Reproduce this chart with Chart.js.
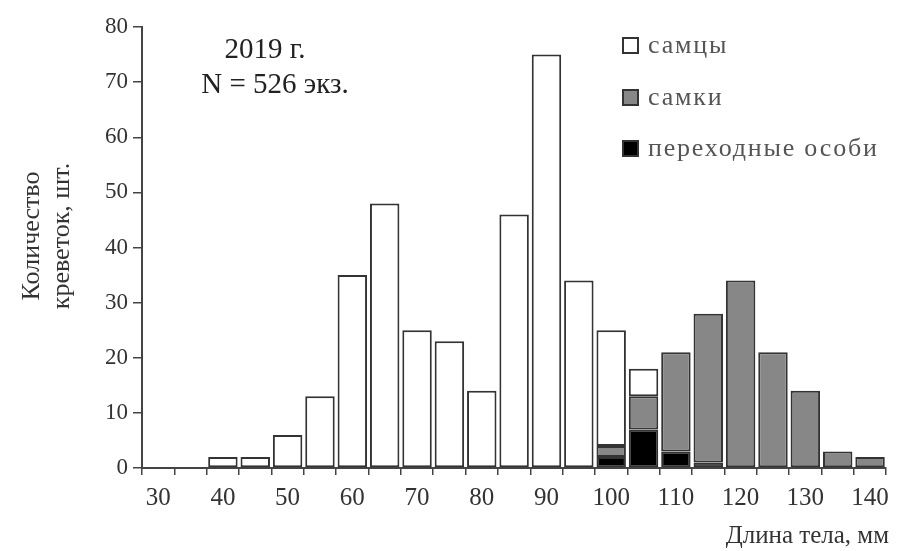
<!DOCTYPE html>
<html>
<head>
<meta charset="utf-8">
<script src="https://cdn.jsdelivr.net/npm/chart.js@4.4.1/dist/chart.umd.min.js"></script>
<style>
  html, body { margin: 0; padding: 0; background: #fff; }
  #wrap { width: 897px; height: 551px; }
</style>
</head>
<body>
<div id="wrap"><canvas id="histChart" width="897" height="551"></canvas></div>
<script>
// body length classes, mm (5 mm step)
const lengthBins = [30, 35, 40, 45, 50, 55, 60, 65, 70, 75, 80, 85, 90, 95, 100, 105, 110, 115, 120, 125, 130, 135, 140];
const tickLabels = ['30', '40', '50', '60', '70', '80', '90', '100', '110', '120', '130', '140'];

// counts per class (stacked: transitional at bottom, then females, males on top)
const males        = [0, 0, 2, 2, 6, 13, 35, 48, 25, 23, 14, 46, 75, 34, 21, 5, 0, 0, 0, 0, 0, 0, 0];
const females      = [0, 0, 0, 0, 0, 0, 0, 0, 0, 0, 0, 0, 0, 0, 2, 6, 18, 27, 34, 21, 14, 3, 2];
const transitional = [0, 0, 0, 0, 0, 0, 0, 0, 0, 0, 0, 0, 0, 0, 2, 7, 3, 1, 0, 0, 0, 0, 0];

const seriesNames = ['самцы', 'самки', 'переходные особи'];
const colors = ['#ffffff', '#878787', '#000000'];
const edge = '#333333';
const serif = "'Liberation Serif', 'DejaVu Serif', serif";

// extra text: year note, axis titles, legend box
const overlayText = {
  id: 'overlayText',
  afterDraw(chart) {
    const ctx = chart.ctx;
    ctx.save();
    ctx.fillStyle = '#222';
    ctx.textAlign = 'center';
    ctx.textBaseline = 'middle';
    ctx.font = '29px ' + serif;
    ctx.fillText('2019 г.', 265, 50);
    ctx.fillText('N = 526 экз.', 275, 85);

    // y axis title, two rotated lines
    ctx.save();
    ctx.translate(32, 236);
    ctx.rotate(-Math.PI / 2);
    ctx.fillStyle = '#333';
    ctx.font = '26px ' + serif;
    ctx.fillText('Количество', 0, 0);
    ctx.fillText('креветок, шт.', 0, 30);
    ctx.restore();

    // x axis title
    ctx.textAlign = 'right';
    ctx.fillStyle = '#333';
    ctx.font = '25px ' + serif;
    ctx.fillText('Длина тела, мм', 889, 536);

    // legend
    const rows = [45, 97, 148];
    ctx.textAlign = 'left';
    ctx.font = '26px ' + serif;
    ctx.letterSpacing = '1.8px';
    rows.forEach((y, i) => {
      ctx.fillStyle = colors[i];
      ctx.fillRect(623, y - 7, 15, 15);
      ctx.strokeStyle = edge;
      ctx.lineWidth = 2;
      ctx.strokeRect(623, y - 7, 15, 15);
      ctx.fillStyle = '#555';
      ctx.fillText(seriesNames[i], 648, y + 1);
    });
    ctx.restore();
  }
};

const ctxEl = document.getElementById('histChart');
const histChart = new Chart(ctxEl, {
  type: 'bar',
  data: {
    labels: lengthBins,
    datasets: [
      { label: seriesNames[2], data: transitional.map(v => v || null), backgroundColor: colors[2] },
      { label: seriesNames[1], data: females.map(v => v || null), backgroundColor: colors[1] },
      { label: seriesNames[0], data: males.map(v => v || null), backgroundColor: colors[0] }
    ].map(ds => Object.assign(ds, {
      borderColor: edge,
      borderWidth: 2,
      borderSkipped: false,
      barPercentage: 0.91,
      categoryPercentage: 1.0
    }))
  },
  options: {
    responsive: false,
    animation: false,
    devicePixelRatio: 1,
    layout: { padding: { top: 27, right: 9, left: 0, bottom: 0 } },
    plugins: {
      legend: { display: false },
      tooltip: { enabled: false }
    },
    scales: {
      x: {
        stacked: true,
        afterFit: s => { s.height = 83; },
        border: { color: '#444', width: 2 },
        grid: { offset: true, drawOnChartArea: false, drawTicks: true, tickLength: 7, color: '#444', lineWidth: 1.5 },
        ticks: {
          autoSkip: false,
          maxRotation: 0,
          padding: 8,
          color: '#333',
          font: { family: serif, size: 25 },
          callback: (val, idx) => (idx % 2 === 0 ? tickLabels[idx / 2] : '')
        }
      },
      y: {
        stacked: true,
        min: 0,
        max: 80,
        afterFit: s => { s.width = 142; },
        border: { color: '#444', width: 2 },
        grid: { drawOnChartArea: false, drawTicks: true, tickLength: 9, color: '#444', lineWidth: 1.5 },
        ticks: {
          stepSize: 10,
          padding: 5,
          color: '#333',
          font: { family: serif, size: 23 }
        }
      }
    }
  },
  plugins: [overlayText]
});
</script>
</body>
</html>
